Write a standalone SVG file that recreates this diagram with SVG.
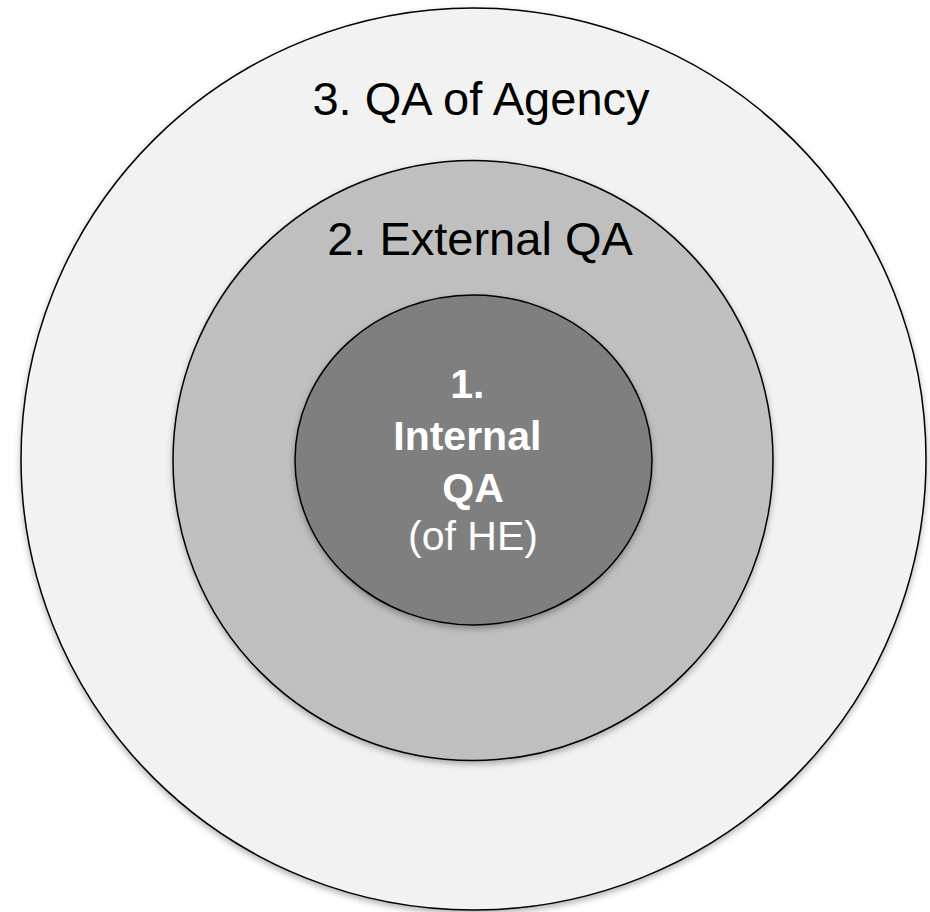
<svg xmlns="http://www.w3.org/2000/svg" width="930" height="912" viewBox="0 0 930 912">
  <style>
    .ring { stroke: #000; stroke-width: 1.5; filter: url(#shadow); }
    .lbl { font-family: "Liberation Sans", Arial, sans-serif; text-anchor: middle; }
    .dark { fill: #000; font-size: 47px; }
    .inner { fill: #fff; font-size: 41px; }
  </style>
  <defs>
    <filter id="shadow" x="-10%" y="-10%" width="120%" height="120%">
      <feDropShadow dx="0" dy="3" stdDeviation="3" flood-color="#000" flood-opacity="0.3"/>
    </filter>
  </defs>
  <rect width="930" height="912" fill="#fff"/>
  <g id="outer">
    <ellipse class="ring" cx="473.5" cy="459" rx="452.5" ry="451" fill="#f2f2f2"/>
    <text class="lbl dark" x="481" y="115">3. QA of Agency</text>
  </g>
  <g id="middle">
    <circle class="ring" cx="473" cy="460.5" r="300" fill="#bfbfbf"/>
    <text class="lbl dark" x="480" y="255">2. External QA</text>
  </g>
  <g id="inner">
    <ellipse class="ring" cx="473.5" cy="460" rx="178.5" ry="165" fill="#7f7f7f"/>
    <text class="lbl inner" x="473" font-weight="bold">
      <tspan x="473" y="398">1.</tspan>
      <tspan x="473" y="450">Internal</tspan>
      <tspan x="473" y="502">QA</tspan>
    </text>
    <text class="lbl inner" x="473" y="550">(of HE)</text>
  </g>
  <g id="connectors"/>
</svg>
